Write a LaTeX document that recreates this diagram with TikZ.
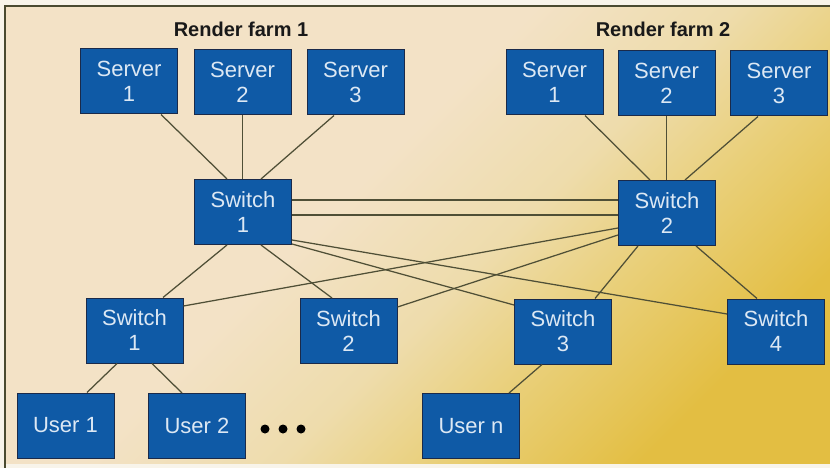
\documentclass[tikz,border=0pt]{standalone}
\usepackage{fontspec}
\setmainfont{Liberation Sans}
\usetikzlibrary{calc}
\definecolor{boxfill}{HTML}{0F5AA6}
\definecolor{boxedge}{HTML}{1A2A4A}
\definecolor{boxtext}{HTML}{DCE8F4}
\definecolor{wire}{HTML}{4F4F36}
\definecolor{framec}{HTML}{4A4A30}
\definecolor{bgA}{HTML}{F3E2C6}
\definecolor{bgAB}{HTML}{EEDCAC}
\definecolor{bgB}{HTML}{E9CF78}
\definecolor{bgC}{HTML}{E3BE42}
\definecolor{paper}{HTML}{F8F4EA}
\pgfdeclarehorizontalshading{bgshade}{100bp}{color(0bp)=(bgA); color(25bp)=(bgA); color(44bp)=(bgA); color(55bp)=(bgAB); color(64bp)=(bgB); color(75bp)=(bgC); color(100bp)=(bgC)}
\tikzset{
  netbox/.style={draw=boxedge, line width=1pt, fill=boxfill, text=boxtext,
    minimum width=97pt, minimum height=65pt, inner sep=0pt, align=center,
    font=\fontsize{22}{25}\selectfont},
  farmtitle/.style={inner sep=0pt, text=black!90, font=\bfseries\fontsize{20}{24}\selectfont},
  wireline/.style={draw=wire, line width=1.25pt},
  dotmark/.style={circle, fill=black, inner sep=0pt, minimum size=9pt},
  framerule/.style={draw=framec, line width=1.2pt}
}
\begin{document}
\begin{tikzpicture}[x=1pt,y=-1pt]
\useasboundingbox (0,0) rectangle (830,468);
\fill[paper] (0,0) rectangle (830,468);
\shade[shading=bgshade, shading angle=-45] (5,6) rectangle (830,463);
\draw[framerule] (5,468) -- (5,6) -- (830,6);

% titles
\node[farmtitle, anchor=base] (rf1) at (241,37) {Render farm 1};
\node[farmtitle, anchor=base] (rf2) at (663,37) {Render farm 2};

% render farm 1
\node[netbox] (a1) at (129,81.5) {Server\\1};
\node[netbox] (a2) at (242.5,82) {Server\\2};
\node[netbox] (a3) at (355.5,82.5) {Server\\3};
\node[netbox] (sw1) at (243,212) {Switch\\1};

% render farm 2
\node[netbox] (b1) at (554.5,82.5) {Server\\1};
\node[netbox] (b2) at (666.5,83) {Server\\2};
\node[netbox] (b3) at (779,83.5) {Server\\3};
\node[netbox] (sw2) at (667,213) {Switch\\2};

% lower switches
\node[netbox] (ls1) at (134.5,330.5) {Switch\\1};
\node[netbox] (ls2) at (348.5,331) {Switch\\2};
\node[netbox] (ls3) at (563,331.5) {Switch\\3};
\node[netbox] (ls4) at (776,331.5) {Switch\\4};

% users
\node[netbox] (u1) at (65.5,425.5) {User 1};
\node[netbox] (u2) at (197,426) {User 2};
\node[netbox] (un) at (471,426) {User n};
\node[dotmark] (d1) at (265,429) {};
\node[dotmark] (d2) at (283,429) {};
\node[dotmark] (d3) at (301,429) {};

% farm 1 links
\draw[wireline] ([xshift=32pt]a1.south) -- ([xshift=-16pt]sw1.north);
\draw[wireline] (a2.south) -- (a2.south |- sw1.north);
\draw[wireline] ([xshift=-21.5pt]a3.south) -- ([xshift=18pt]sw1.north);
% farm 2 links
\draw[wireline] ([xshift=30.5pt]b1.south) -- ([xshift=-17pt]sw2.north);
\draw[wireline] (b2.south) -- (b2.south |- sw2.north);
\draw[wireline] ([xshift=-21pt]b3.south) -- ([xshift=18pt]sw2.north);
% switch to switch
\draw[wireline] ([yshift=12pt]sw1.east) -- ([yshift=13pt]sw2.west);
\draw[wireline] ([yshift=-3pt]sw1.east) -- ([yshift=-2pt]sw2.west);
% switch 1 down
\draw[wireline] ([xshift=-16pt]sw1.south) -- ([xshift=28.5pt]ls1.north);
\draw[wireline] ([xshift=18pt]sw1.south) -- ([xshift=-16.5pt]ls2.north);
\draw[wireline] ([yshift=-28pt]sw1.east) -- ([yshift=17.5pt]ls4.west);
\draw[wireline] ([yshift=1pt]sw1.south east) -- ([yshift=26.5pt]ls3.west);
% switch 2 down
\draw[wireline] ([yshift=24.5pt]ls1.east) -- ([yshift=-15pt]sw2.west);
\draw[wireline] ([yshift=24pt]ls2.east) -- ([yshift=-22pt]sw2.west);
\draw[wireline] ([xshift=-29pt]sw2.south) -- ([xshift=32pt]ls3.north);
\draw[wireline] ([xshift=29pt]sw2.south) -- ([xshift=-19pt]ls4.north);
% users
\draw[wireline] ([xshift=-17.5pt]ls1.south) -- ([xshift=21.5pt]u1.north);
\draw[wireline] ([xshift=17.5pt]ls1.south) -- ([xshift=-15pt]u2.north);
\draw[wireline] ([xshift=-21pt]ls3.south) -- ([xshift=38pt]un.north);
\end{tikzpicture}
\end{document}
